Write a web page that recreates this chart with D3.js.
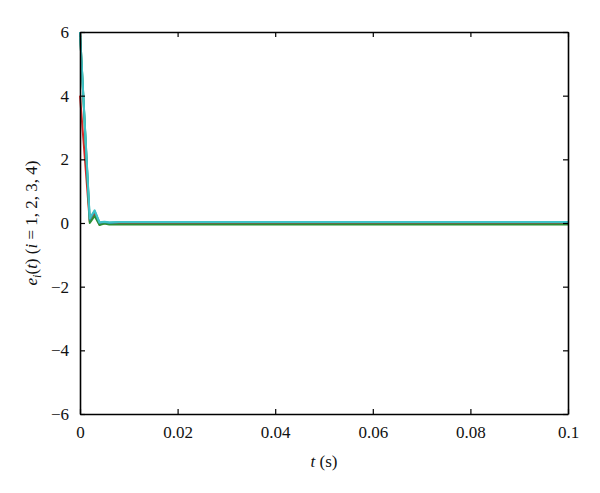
<!DOCTYPE html>
<html>
<head>
<meta charset="utf-8">
<script src="https://cdn.jsdelivr.net/npm/d3@7"></script>
<style>
  body { margin: 0; background: #fff; }
  svg text { font-family: 'Liberation Serif', 'DejaVu Serif', serif; font-size: 17px; fill: #111; }
</style>
</head>
<body>
<div id="chart"></div>
<script>
// sample times (s)
const times = [0, 0.002, 0.003, 0.004, 0.005, 0.006, 0.008, 0.1];

// error signals e_i(t)
const e1 = [4, 0.05, 0.28, -0.05, 0.0, -0.02, -0.02, -0.02];
const e2 = [6, 0.1, 0.37, 0.0, 0.03, 0.0, 0.02, 0.02];
const e3 = [6, 0.15, 0.4, 0.02, 0.04, 0.02, 0.03, 0.03];
const e4 = [6, 0.0, 0.22, -0.06, -0.02, -0.05, -0.05, -0.05];

const xTicks = [0, 0.02, 0.04, 0.06, 0.08, 0.1];
const yTicks = [-6, -4, -2, 0, 2, 4, 6];

const series = [
  { values: e1, color: '#d42a2a' },
  { values: e4, color: '#2b8f35' },
  { values: e2, color: '#2a9a9a' },
  { values: e3, color: '#3fc3c8' }
];

const chartWidth = 600;
const chartHeight = 493;
const margin = { top: 32, right: 32, bottom: 79, left: 80 };

const w = chartWidth - margin.left - margin.right;
const h = chartHeight - margin.top - margin.bottom;

let xScale = d3.scaleLinear().domain([0, 0.1]).range([0, w]);
let yScale = d3.scaleLinear().domain([-6, 6]).range([h, 0]);

let svg = d3.select('#chart').append('svg')
  .attr('width', chartWidth)
  .attr('height', chartHeight);

let vis = svg.append('g')
  .attr('transform', 'translate(' + margin.left + ',' + margin.top + ')');

let fmt = function(d) {
  return d < 0 ? '\u2212' + Math.abs(d) : String(d);
};

// lines
let line = d3.line()
  .x(function(d, i) { return xScale(times[i]); })
  .y(function(d) { return yScale(d); });

series.map((s) => {
  vis.append('path')
    .datum(s.values)
    .attr('fill', 'none')
    .attr('stroke', s.color)
    .attr('stroke-width', 2)
    .attr('stroke-linejoin', 'round')
    .attr('d', line);
});

// axes with inward ticks
let axisB = vis.append('g')
  .attr('transform', 'translate(0,' + h + ')')
  .call(d3.axisBottom(xScale).tickValues(xTicks).tickSizeInner(-5).tickSizeOuter(0).tickPadding(12).tickFormat(fmt));

let axisT = vis.append('g')
  .call(d3.axisTop(xScale).tickValues(xTicks).tickSizeInner(-5).tickSizeOuter(0).tickFormat(''));

let axisL = vis.append('g')
  .call(d3.axisLeft(yScale).tickValues(yTicks).tickSizeInner(-5).tickSizeOuter(0).tickPadding(11).tickFormat(fmt));

let axisR = vis.append('g')
  .attr('transform', 'translate(' + w + ',0)')
  .call(d3.axisRight(yScale).tickValues(yTicks).tickSizeInner(-5).tickSizeOuter(0).tickFormat(''));

[axisB, axisT, axisL, axisR].map((g) => {
  g.selectAll('.domain').attr('stroke', '#000').attr('stroke-width', 1.6);
  g.selectAll('.tick line').attr('stroke', '#000').attr('stroke-width', 1.2);
  g.selectAll('.tick text')
    .style('font-family', "'Liberation Serif', serif")
    .style('font-size', '17px')
    .attr('fill', '#111');
});

// axis labels
let xl = vis.append('text')
  .attr('x', w / 2)
  .attr('y', h + 53)
  .attr('text-anchor', 'middle');
xl.append('tspan').attr('font-style', 'italic').text('t');
xl.append('tspan').text(' (s)');

let yl = vis.append('text')
  .attr('transform', 'rotate(-90)')
  .attr('x', -h / 2)
  .attr('y', -43)
  .attr('text-anchor', 'middle');
yl.append('tspan').attr('font-style', 'italic').text('e');
yl.append('tspan').attr('font-style', 'italic').attr('font-size', '12px').attr('dy', 4).text('i');
yl.append('tspan').attr('dy', -4).text('(');
yl.append('tspan').attr('font-style', 'italic').text('t');
yl.append('tspan').text(') (');
yl.append('tspan').attr('font-style', 'italic').text('i');
yl.append('tspan').text(' = 1, 2, 3, 4)');
</script>
</body>
</html>
